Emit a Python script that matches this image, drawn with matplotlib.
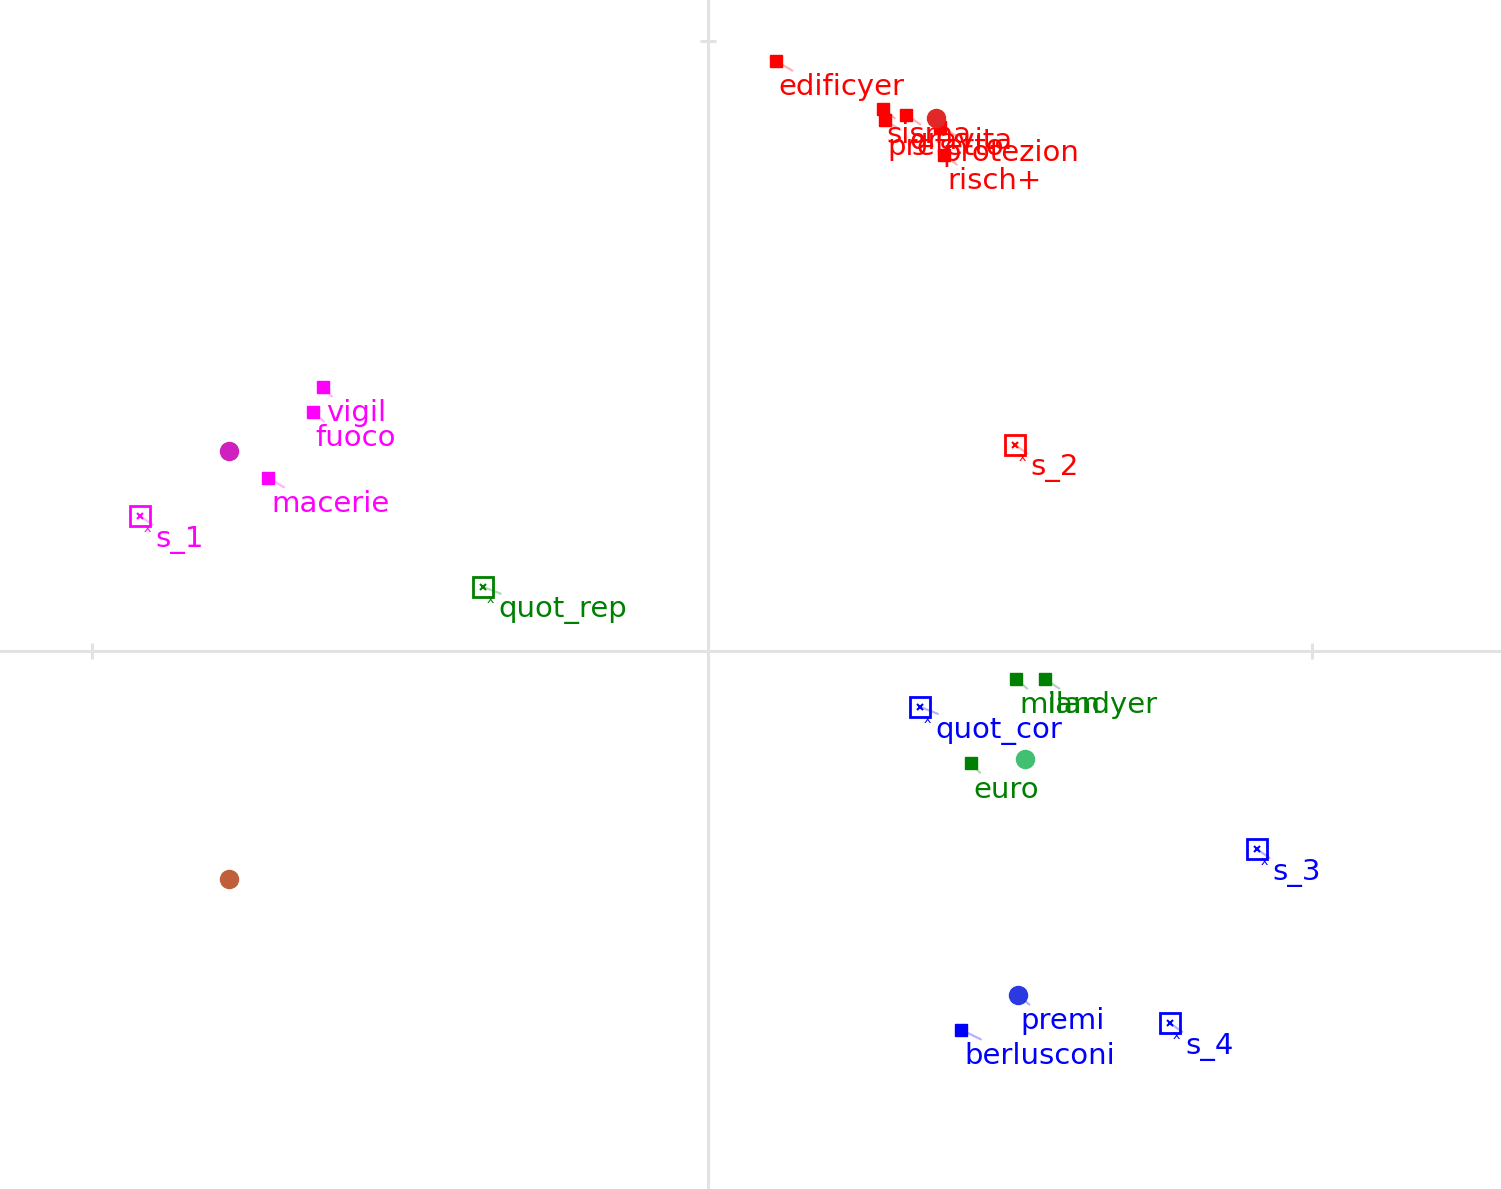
import matplotlib
matplotlib.use('Agg')
import matplotlib.pyplot as plt

# active words (squares) per cluster
words = ['edificyer', 'sisma', 'prefetto', 'gravita', 'protezion', 'risch+',
         'vigil', 'fuoco', 'macerie',
         'milan', 'landyer', 'euro',
         'berlusconi', 'premi']
word_x = [0.111, 0.287, 0.290, 0.325, 0.380, 0.387,
          -0.631, -0.648, -0.721,
          0.505, 0.552, 0.431,
          0.415, 0.508]
word_y = [0.967, 0.889, 0.870, 0.879, 0.859, 0.813,
          0.433, 0.392, 0.284,
          -0.046, -0.046, -0.184,
          -0.621, -0.564]
word_col = ['#ff0000'] * 6 + ['#ff00ff'] * 3 + ['#008000'] * 3 + ['#0000ff'] * 2

# supplementary variables (boxes)
sup = ['s_1', 's_2', 'quot_rep', 'quot_cor', 's_3', 's_4']
sup_x = [-0.931, 0.503, -0.369, 0.348, 0.900, 0.757]
sup_y = [0.221, 0.338, 0.105, -0.092, -0.325, -0.610]
sup_col = ['#ff00ff', '#ff0000', '#008000', '#0000ff', '#0000ff', '#0000ff']

# cluster centroids
cent_x = [-0.785, 0.374, 0.520, 0.508, -0.785]
cent_y = [0.328, 0.874, -0.177, -0.564, -0.374]
cent_col = ['#d020c0', '#e02828', '#40c070', '#2a3ae0', '#c0603a']

fig = plt.figure(figsize=(15.01, 11.89), dpi=100)
ax = fig.add_axes([0, 0, 1, 1])
ax.set_xlim(-1.161, 1.300)
ax.set_ylim(-0.882, 1.067)
ax.axis('off')

grey = '#e2e2e2'
ax.axhline(0, color=grey, lw=2.2, zorder=0)
ax.axvline(0, color=grey, lw=2.2, zorder=0)
ax.plot([-1.01, 0.99], [0, 0], ls='none', marker='|', ms=11, mew=2.2, color=grey, zorder=0)
ax.plot([0], [1], ls='none', marker='_', ms=11, mew=2.2, color=grey, zorder=0)

fs = 21
lead = dict(arrowstyle='-', alpha=0.3, lw=1.6, shrinkA=0, shrinkB=0, relpos=(0.3, 0.6))

for w, x, y, c in zip(words, word_x, word_y, word_col):
    ax.plot(x, y, 's', ms=8.5, color=c, mec=c, zorder=3)
    ax.annotate(w, (x, y), xytext=(2, -19), textcoords='offset points',
                ha='left', va='center', fontsize=fs, color=c, zorder=4,
                arrowprops=dict(lead, color=c))

for s, x, y, c in zip(sup, sup_x, sup_y, sup_col):
    ax.plot(x, y, 's', ms=14, mfc='none', mec=c, mew=2, zorder=3)
    ax.plot(x, y, 'x', ms=5, mec=c, mew=1.5, zorder=3)
    ax.annotate('x', (x, y), xytext=(5, -9), textcoords='offset points',
                ha='center', va='center', fontsize=9, color=c, zorder=3)
    ax.annotate(s, (x, y), xytext=(11, -17), textcoords='offset points',
                ha='left', va='center', fontsize=fs, color=c, zorder=4,
                arrowprops=dict(lead, color=c))

for x, y, c in zip(cent_x, cent_y, cent_col):
    ax.plot(x, y, 'o', ms=13, color=c, zorder=5)

fig.savefig('out.png', dpi=100)
